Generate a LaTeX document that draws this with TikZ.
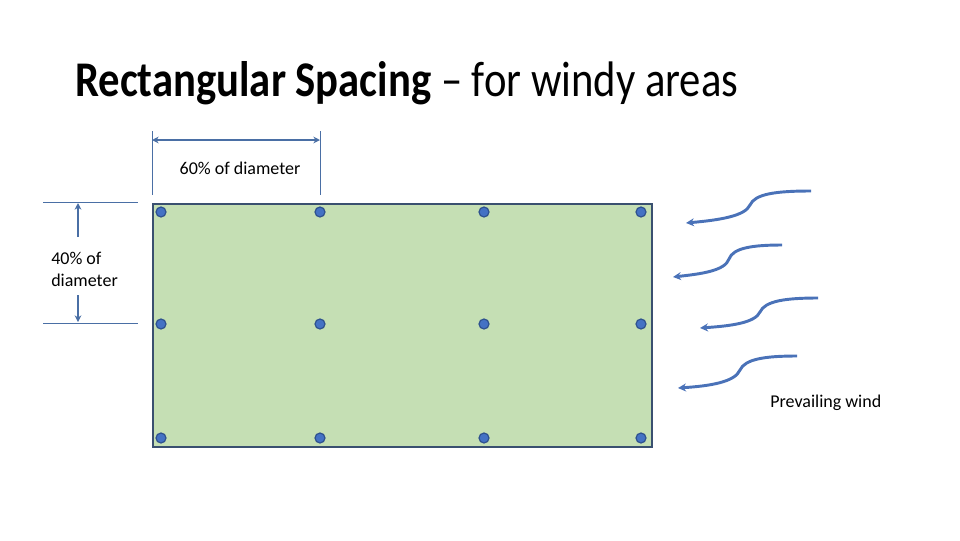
\documentclass[tikz,border=0pt]{standalone}
\usepackage{fontspec}
\setmainfont{Carlito}
\usetikzlibrary{arrows.meta}
\definecolor{fieldgreen}{HTML}{C5DFB4}
\definecolor{fieldborder}{HTML}{3A5070}
\definecolor{dotfill}{HTML}{4472C4}
\definecolor{dotdraw}{HTML}{2F528F}
\definecolor{dimblue}{HTML}{4A6FA5}
\definecolor{windblue}{HTML}{4A72B8}
\tikzset{
  field/.style={fill=fieldgreen, draw=fieldborder, line width=1.5pt},
  treedot/.style={circle, fill=dotfill, draw=dotdraw, line width=0.9pt, minimum size=7.5pt, inner sep=0pt},
  dimline/.style={draw=dimblue, line width=0.6pt},
  dimarrow/.style={draw=dimblue, line width=1.2pt, -{Stealth[length=5pt,width=5pt]}},
  dimboth/.style={draw=dimblue, line width=1.2pt, {Stealth[length=5pt,width=5pt]}-{Stealth[length=5pt,width=5pt]}},
  windarrow/.style={draw=windblue, line width=2.2pt, -{Stealth[length=6pt,width=6pt]}},
  lbl/.style={font=\fontsize{13.5}{16.5}\selectfont, inner sep=0pt, text=black},
}
\begin{document}
\begin{tikzpicture}[x=0.75pt,y=-0.75pt]
\useasboundingbox (0,0) rectangle (960,540);
% title
\node[anchor=base west, inner sep=0pt, font=\fontsize{32}{38}\selectfont] (title) at (75,96)
  {\scalebox{1}[1.17]{\textbf{Rectangular Spacing} – for windy areas}};
% field
\node[field, minimum width=374.25pt, minimum height=182.25pt, inner sep=0pt, anchor=north west] (fld) at (152,203) {};
% dots
\foreach \c/\x in {1/161,2/320,3/484,4/641}{
  \foreach \r/\y in {1/212,2/324,3/438}{
    \node[treedot] (d\c\r) at (\x,\y) {};
  }
}
% top dimension
\coordinate (t1a) at (152,131); \coordinate (t1b) at (152,195);
\coordinate (t2a) at (320,131); \coordinate (t2b) at (320,195);
\draw[dimline] (t1a) -- (t1b);
\draw[dimline] (t2a) -- (t2b);
\coordinate (ta) at (152,140); \coordinate (tb) at (320,140);
\draw[dimboth] (ta) -- (tb);
\node[lbl] (toplbl) at (240,168) {60\% of diameter};
% left dimension
\coordinate (l1a) at (43,202); \coordinate (l1b) at (138,202);
\coordinate (l2a) at (43,323); \coordinate (l2b) at (138,323);
\draw[dimline] (l1a) -- (l1b);
\draw[dimline] (l2a) -- (l2b);
\coordinate (va1) at (78,237); \coordinate (va2) at (78,203);
\coordinate (vb1) at (78,295); \coordinate (vb2) at (78,322);
\draw[dimarrow] (va1) -- (va2);
\draw[dimarrow] (vb1) -- (vb2);
\node[lbl, anchor=base west, align=left] (leftlbl) at (51,286) {40\% of\\diameter};
% wind arrows
\coordinate (w1s) at (811,191); \coordinate (w1e) at (686,223);
\coordinate (w2s) at (782,245); \coordinate (w2e) at (673,277);
\coordinate (w3s) at (818,298); \coordinate (w3e) at (700,328);
\coordinate (w4s) at (797,356); \coordinate (w4e) at (678,388);
\draw[windarrow] (w1s) .. controls (775,191) and (755,194) .. (750,205) .. controls (745,216) and (720,220) .. (w1e);
\draw[windarrow] (w2s) .. controls (752,245) and (733,248) .. (729,259) .. controls (725,271) and (700,274) .. (w2e);
\draw[windarrow] (w3s) .. controls (785,298) and (765,301) .. (760,312) .. controls (755,323) and (730,326) .. (w3e);
\draw[windarrow] (w4s) .. controls (765,356) and (745,359) .. (740,370) .. controls (735,382) and (710,386) .. (w4e);
\node[lbl, anchor=base west] (windlbl) at (770,407) {Prevailing wind};
\end{tikzpicture}
\end{document}
